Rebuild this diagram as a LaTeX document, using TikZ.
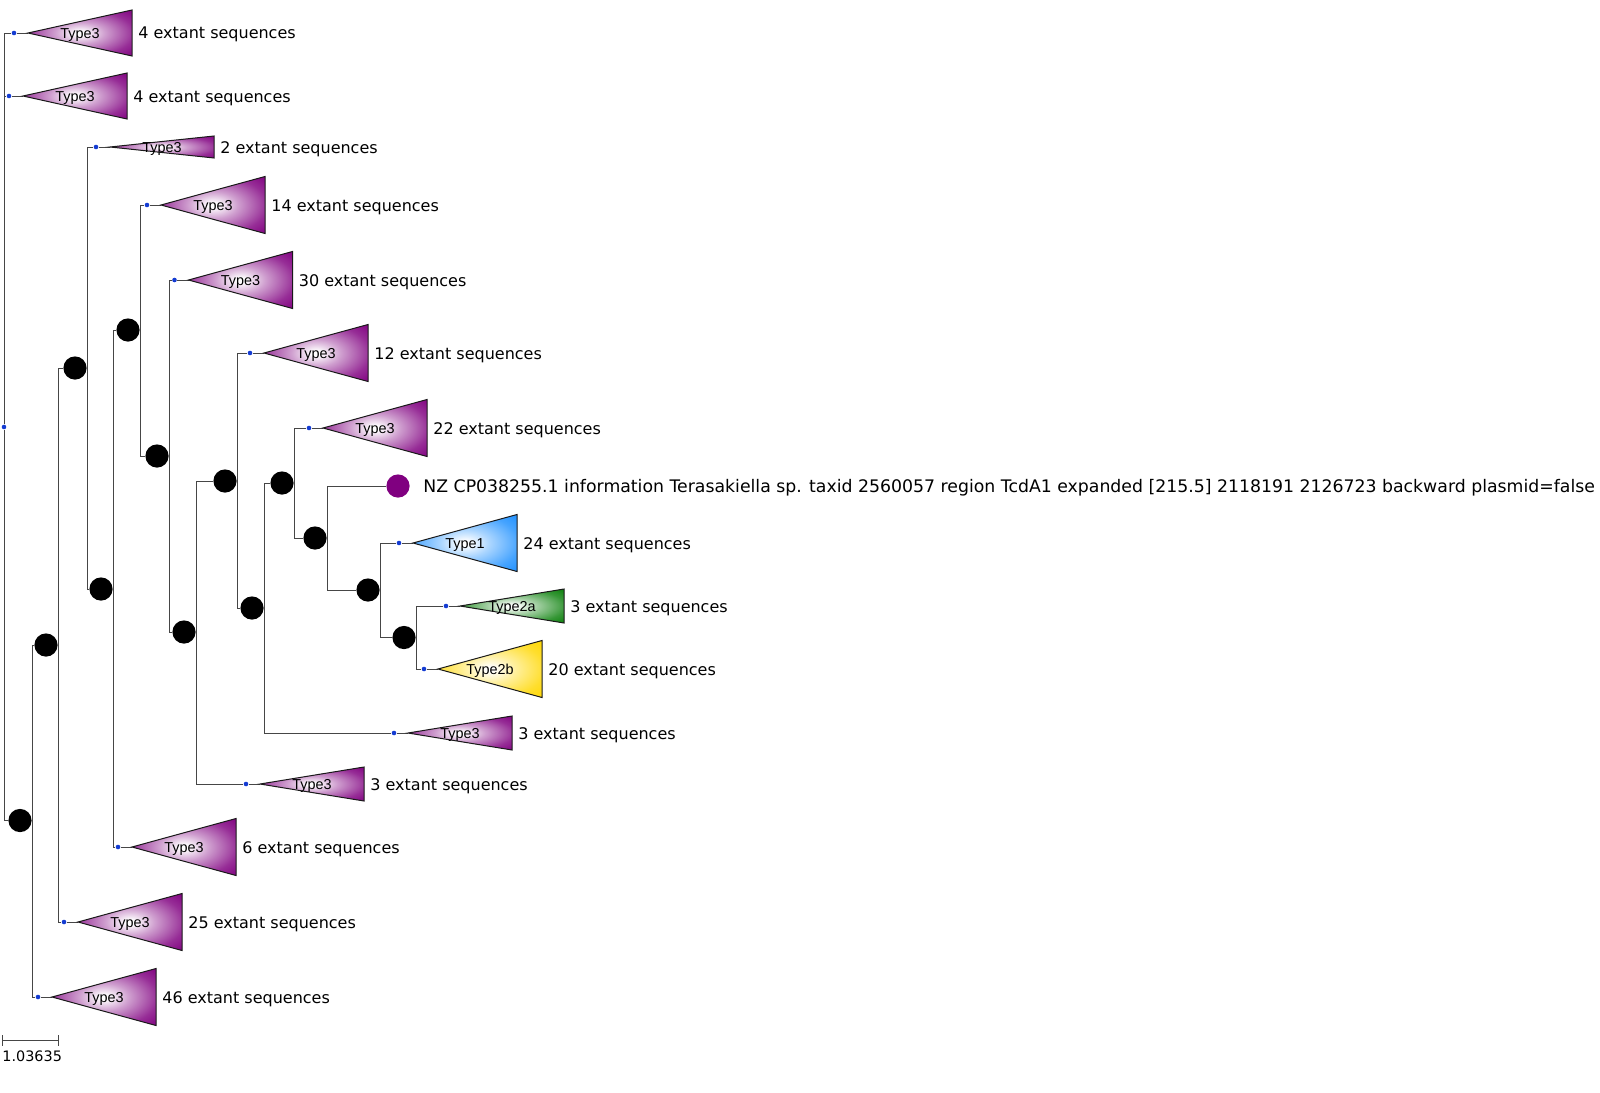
\documentclass[tikz,border=0pt]{standalone}
\usepackage{fontspec}
\setmainfont{DejaVu Sans}
\newfontfamily\typefont{Liberation Sans}
\usetikzlibrary{calc}

\definecolor{cladeP}{RGB}{128,0,128}
\definecolor{cladeB}{RGB}{30,144,255}
\definecolor{cladeG}{RGB}{10,128,10}
\definecolor{cladeY}{RGB}{255,215,0}
\definecolor{dotblue}{RGB}{20,60,210}
\definecolor{branchgray}{RGB}{70,70,70}

% radial fades: white core, clade colour at the rim
\pgfdeclareradialshading{fadeP}{\pgfpoint{0bp}{0bp}}{color(0bp)=(white); color(2bp)=(white); color(12bp)=(cladeP!38); color(26bp)=(cladeP!82); color(36bp)=(cladeP); color(50bp)=(cladeP)}
\pgfdeclareradialshading{fadeB}{\pgfpoint{0bp}{0bp}}{color(0bp)=(white); color(2bp)=(white); color(12bp)=(cladeB!38); color(26bp)=(cladeB!82); color(36bp)=(cladeB); color(50bp)=(cladeB)}
\pgfdeclareradialshading{fadeG}{\pgfpoint{0bp}{0bp}}{color(0bp)=(white); color(2bp)=(white); color(12bp)=(cladeG!38); color(26bp)=(cladeG!82); color(36bp)=(cladeG); color(50bp)=(cladeG)}
\pgfdeclareradialshading{fadeY}{\pgfpoint{0bp}{0bp}}{color(0bp)=(white); color(2bp)=(white); color(12bp)=(cladeY!38); color(26bp)=(cladeY!82); color(36bp)=(cladeY); color(50bp)=(cladeY)}

\pgfdeclarelayer{edges}
\pgfsetlayers{edges,main}

% collapsed clade: name, dot x, y, half height, shading, type, count text
\newcommand\collapsed[7]{%
  \node[bdot] (#1dot) at (#2,#3) {};
  \begin{pgfonlayer}{edges}\draw[branch] (#1dot) -- (#2+14,#3);\end{pgfonlayer}
  \shade[shading=#5, draw=black!90, line width=0.5pt] (#2+14,#3) -- (#2+118,#3-#4) -- (#2+118,#3+#4) -- cycle;
  \node[typelbl] (#1type) at (#2+66,#3+5) {#6};
  \node[countlbl] (#1count) at (#2+124,#3+6) {#7};
}

\begin{document}
\begin{tikzpicture}[x=0.5pt,y=-0.5pt,
  branch/.style={draw=branchgray,line width=0.5pt},
  bdot/.style={circle,fill=dotblue,inner sep=0pt,minimum size=2.3pt},
  support/.style={circle,fill=black,inner sep=0pt,minimum size=11.6pt},
  typelbl/.style={anchor=base,inner sep=0pt,font=\typefont\fontsize{7.2pt}{8pt}\selectfont},
  countlbl/.style={anchor=base west,inner sep=0pt,font=\fontsize{8pt}{9.6pt}\selectfont},
]
\useasboundingbox (0,0) rectangle (1600,1092);

% root
\node[bdot] (root) at (4,427) {};

% internal nodes: support circle and its vertical line position
\node[support] (N1) at (20,820.5) {};   \coordinate (N1v) at (32,820.5);
\node[support] (N2) at (46,645) {};     \coordinate (N2v) at (58,645);
\node[support] (N3) at (75,368) {};     \coordinate (N3v) at (87,368);
\node[support] (N4) at (101,589) {};    \coordinate (N4v) at (113,589);
\node[support] (N5) at (128,330) {};    \coordinate (N5v) at (140,330);
\node[support] (N6) at (157,456) {};    \coordinate (N6v) at (169,456);
\node[support] (N7) at (184,632) {};    \coordinate (N7v) at (196,632);
\node[support] (N8) at (225,481) {};    \coordinate (N8v) at (237,481);
\node[support] (N9) at (252,608) {};    \coordinate (N9v) at (264,608);
\node[support] (N10) at (282,483) {};   \coordinate (N10v) at (294,483);
\node[support] (N11) at (315,538) {};   \coordinate (N11v) at (327,538);
\node[support] (N12) at (368,590) {};   \coordinate (N12v) at (380,590);
\node[support] (N13) at (404,637.5) {}; \coordinate (N13v) at (416,637.5);

% collapsed clades
\collapsed{A}{14}{33}{23}{fadeP}{Type3}{4 extant sequences}
\collapsed{B}{9}{96}{23}{fadeP}{Type3}{4 extant sequences}
\collapsed{C}{96}{147}{11}{fadeP}{Type3}{2 extant sequences}
\collapsed{D}{147}{205}{28.5}{fadeP}{Type3}{14 extant sequences}
\collapsed{E}{174.5}{280}{28.5}{fadeP}{Type3}{30 extant sequences}
\collapsed{F}{250}{353}{28.5}{fadeP}{Type3}{12 extant sequences}
\collapsed{G}{309}{428}{28.5}{fadeP}{Type3}{22 extant sequences}
\collapsed{H}{399}{543}{28.5}{fadeB}{Type1}{24 extant sequences}
\collapsed{I}{446}{606}{17}{fadeG}{Type2a}{3 extant sequences}
\collapsed{J}{424}{669}{28.5}{fadeY}{Type2b}{20 extant sequences}
\collapsed{K}{394}{733}{17}{fadeP}{Type3}{3 extant sequences}
\collapsed{L}{246}{784}{17}{fadeP}{Type3}{3 extant sequences}
\collapsed{M}{118}{847}{28.5}{fadeP}{Type3}{6 extant sequences}
\collapsed{O}{64}{922}{28.5}{fadeP}{Type3}{25 extant sequences}
\collapsed{Q}{38}{997}{28.5}{fadeP}{Type3}{46 extant sequences}

% single sequence leaf
\node[circle,fill=cladeP,inner sep=0pt,minimum size=11.6pt] (leaf) at (398,486) {};
\node[anchor=base west,inner sep=0pt,font=\fontsize{8.65pt}{10pt}\selectfont] (leaflabel) at (423,492) {NZ CP038255.1 information Terasakiella sp. taxid 2560057 region TcdA1 expanded [215.5] 2118191 2126723 backward plasmid=false};

% branches
\begin{pgfonlayer}{edges}
\draw[branch] (root) |- (Adot);
\draw[branch] (root) |- (Bdot);
\draw[branch] (root) |- (N1);
\draw[branch] (N1v) |- (N2);
\draw[branch] (N1v) |- (Qdot);
\draw[branch] (N2v) |- (N3);
\draw[branch] (N2v) |- (Odot);
\draw[branch] (N3v) |- (Cdot);
\draw[branch] (N3v) |- (N4);
\draw[branch] (N4v) |- (N5);
\draw[branch] (N4v) |- (Mdot);
\draw[branch] (N5v) |- (Ddot);
\draw[branch] (N5v) |- (N6);
\draw[branch] (N6v) |- (Edot);
\draw[branch] (N6v) |- (N7);
\draw[branch] (N7v) |- (N8);
\draw[branch] (N7v) |- (Ldot);
\draw[branch] (N8v) |- (Fdot);
\draw[branch] (N8v) |- (N9);
\draw[branch] (N9v) |- (N10);
\draw[branch] (N9v) |- (Kdot);
\draw[branch] (N10v) |- (Gdot);
\draw[branch] (N10v) |- (N11);
\draw[branch] (N11v) |- (leaf);
\draw[branch] (N11v) |- (N12);
\draw[branch] (N12v) |- (Hdot);
\draw[branch] (N12v) |- (N13);
\draw[branch] (N13v) |- (Idot);
\draw[branch] (N13v) |- (Jdot);
\end{pgfonlayer}

% scale bar
\coordinate (sbL) at (2,1040);
\coordinate (sbR) at (58,1040);
\draw[branch] (sbL) -- (sbR);
\draw[branch] ($(sbL)+(0,-5)$) -- ($(sbL)+(0,6)$);
\draw[branch] ($(sbR)+(0,-5)$) -- ($(sbR)+(0,6)$);
\node[anchor=base west,inner sep=0pt,font=\fontsize{7.2pt}{8pt}\selectfont] (sblabel) at (2,1061) {1.03635};
\end{tikzpicture}
\end{document}
